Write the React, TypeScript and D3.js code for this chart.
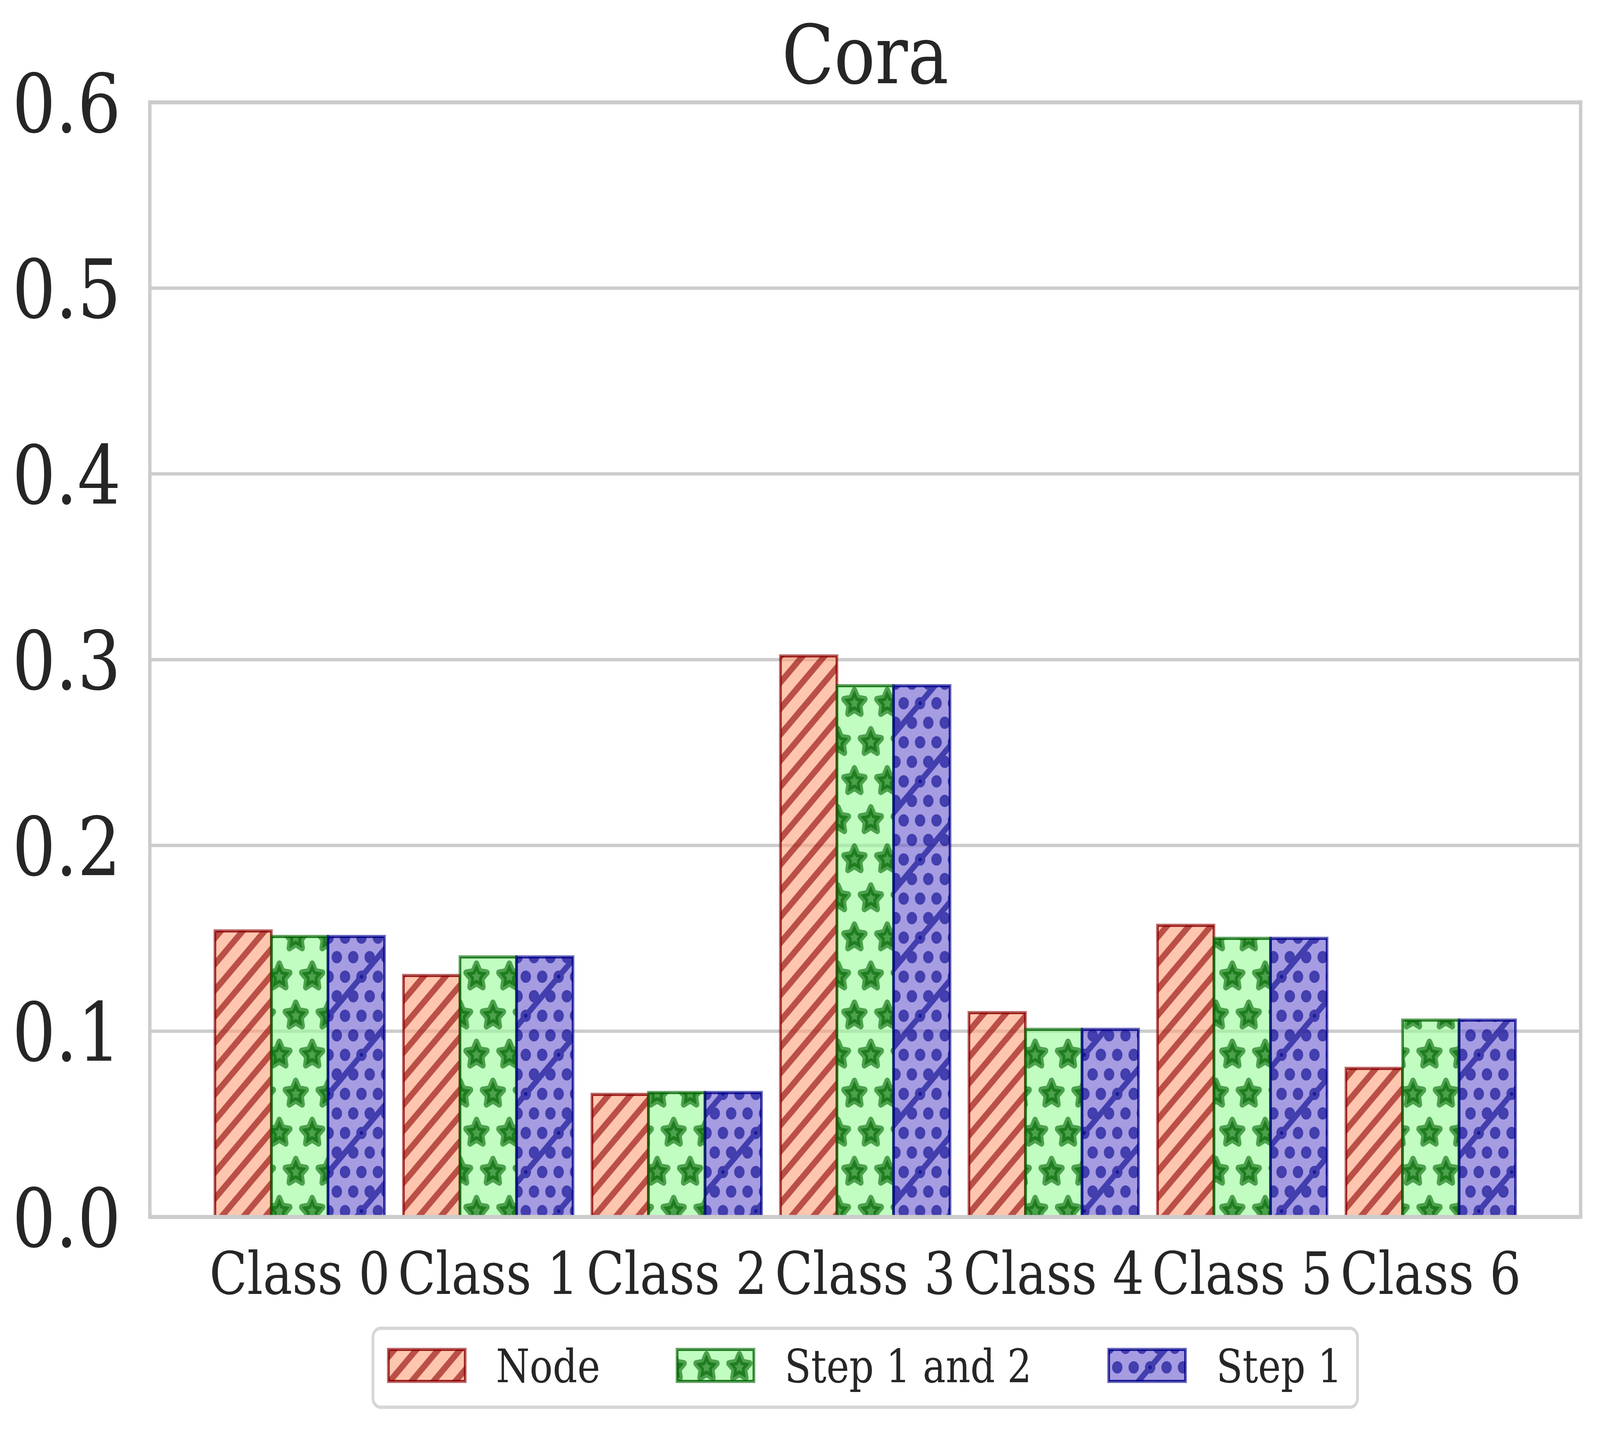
import { useMemo } from "react";
import * as d3 from "d3";

// chart data
const categories = ["Class 0", "Class 1", "Class 2", "Class 3", "Class 4", "Class 5", "Class 6"];
const seriesNames = ["Node", "Step 1 and 2", "Step 1"];
const nodeValues = [0.154, 0.130, 0.066, 0.302, 0.110, 0.157, 0.080];
const step12Values = [0.151, 0.140, 0.067, 0.286, 0.101, 0.150, 0.106];
const step1Values = [0.151, 0.140, 0.067, 0.286, 0.101, 0.150, 0.106];
const yTicks = [0, 0.1, 0.2, 0.3, 0.4, 0.5, 0.6];
const title = "Cora";

// drawing frame (the reference size); the svg is stretched onto the viewport
const W = 4869;
const H = 3668;
const plot = { left: 456, right: 4810, top: 262, bottom: 3115 };
const FONT = "'DejaVu Serif', serif";
const TEXT = "#262626";
const GRID = "#cccccc";

const styles = [
  { fill: "#ffa07a", edge: "#8b0000", pattern: "hatch-node" },
  { fill: "#98fb98", edge: "#006400", pattern: "hatch-stars" },
  { fill: "#6a5acd", edge: "#00008b", pattern: "hatch-dots" },
];

const starPath = (cx: number, cy: number, R: number, r: number) => {
  const pts: string[] = [];
  for (let k = 0; k < 10; k++) {
    const a = -Math.PI / 2 + (k * Math.PI) / 5;
    const rr = k % 2 === 0 ? R : r;
    pts.push(`${(cx + rr * Math.cos(a)).toFixed(2)},${(cy + rr * Math.sin(a)).toFixed(2)}`);
  }
  return "M" + pts.join("L") + "Z";
};

const diag = (c: number) => ({ x1: -30, y1: c + 30, x2: c + 30, y2: -30 });

const Patterns = () => {
  const P = 600 / 9; // stripe period
  const starCenters = [
    [0, 0], [100, 0], [50, 100], [0, 200], [100, 200],
  ];
  const stars = starCenters.map(([x, y]) => starPath(x, y, 33.3, 16.7)).join("");
  const dots: [number, number][] = [];
  for (let row = 0; row <= 4; row++) {
    const y = row * 50;
    const xs = row % 2 === 0 ? [0, 50, 100, 150, 200] : [25, 75, 125, 175];
    xs.forEach((x) => dots.push([x, y]));
  }
  return (
    <defs>
      <pattern id="hatch-node" patternUnits="userSpaceOnUse" width={P} height={P}
        patternTransform="translate(55,0)">
        <g opacity={0.6} stroke="#8b0000" strokeWidth={17}>
          {[0, P, 2 * P].map((c) => <line key={c} {...diag(c)} />)}
        </g>
      </pattern>
      <pattern id="hatch-stars" patternUnits="userSpaceOnUse" width={100} height={200}>
        <g opacity={0.6}>
          <path d={stars} fill="#006400" />
        </g>
        <g opacity={0.6}>
          <path d={stars} fill="none" stroke="#006400" strokeWidth={16.7} strokeLinejoin="round" />
        </g>
      </pattern>
      <pattern id="hatch-dots" patternUnits="userSpaceOnUse" width={200} height={200}>
        <g opacity={0.6} stroke="#00008b" fill="none">
          {dots.map(([x, y], i) => (
            <circle key={i} cx={x} cy={y} r={10.4} strokeWidth={10.8} />
          ))}
          {[0, 200, 400].map((c) => <line key={c} {...diag(c)} strokeWidth={16} />)}
        </g>
        <g opacity={0.6} fill="#00008b">
          {dots.map(([x, y], i) => (
            <circle key={i} cx={x} cy={y} r={5} />
          ))}
        </g>
      </pattern>
    </defs>
  );
};

const HatchRect = ({ x, y, w, h, s }: { x: number; y: number; w: number; h: number; s: number }) => {
  const st = styles[s];
  return (
    <g>
      <rect x={x} y={y} width={w} height={h} fill={st.fill} fillOpacity={0.6} />
      <rect x={x} y={y} width={w} height={h} fill={`url(#${st.pattern})`} />
      <rect x={x} y={y} width={w} height={h} fill="none" stroke={st.edge} strokeOpacity={0.6} strokeWidth={8} />
      <rect x={x + 2} y={y + 2} width={Math.max(0, w - 4)} height={Math.max(0, h - 4)}
        fill="none" stroke={st.edge} strokeOpacity={0.6} strokeWidth={4} />
    </g>
  );
};

export default function App() {
  const series = [nodeValues, step12Values, step1Values];
  const barWidth = 0.3;
  const x = d3.scaleLinear().domain([-0.795, categories.length - 1 + 0.795]).range([plot.left, plot.right]);
  const y = d3.scaleLinear().domain([0, 0.6]).range([plot.bottom, plot.top]);
  const fmt = d3.format(".1f");

  const legendFs = 117;
  const legend = useMemo(() => {
    const ctx = document.createElement("canvas").getContext("2d");
    let widths = seriesNames.map((n) => n.length * legendFs * 0.55);
    if (ctx) {
      ctx.font = `${legendFs}px 'DejaVu Serif'`;
      widths = seriesNames.map((n) => ctx.measureText(n).width);
    }
    const handleW = 2.0 * legendFs;
    const pad = 0.8 * legendFs;
    const colSpace = 2.0 * legendFs;
    const border = 0.4 * legendFs;
    const total = 2 * border + widths.reduce((a, w) => a + handleW + pad + w, 0) + colSpace * (seriesNames.length - 1);
    const left = (plot.left + plot.right) / 2 - total / 2;
    let cur = left + border;
    const items = seriesNames.map((name, i) => {
      const item = { name, hx: cur, tx: cur + handleW + pad };
      cur += handleW + pad + widths[i] + colSpace;
      return item;
    });
    return { left, total, items, handleW };
  }, []);

  return (
    <svg viewBox={`0 0 ${W} ${H}`} preserveAspectRatio="none"
      style={{ position: "fixed", left: 0, top: 0, width: "100vw", height: "100vh", background: "#fff", display: "block" }}>
      <Patterns />
      <rect x={0} y={0} width={W} height={H} fill="#fff" />

      {/* grid */}
      {yTicks.map((t) => (
        <line key={t} x1={plot.left} x2={plot.right} y1={y(t)} y2={y(t)} stroke={GRID} strokeWidth={8.3} />
      ))}

      {/* bars */}
      {series.map((vals, s) =>
        vals.map((v, i) => {
          const x0 = x(i + (s - 1) * barWidth - barWidth / 2);
          const x1 = x(i + (s - 1) * barWidth + barWidth / 2);
          return <HatchRect key={`${s}-${i}`} x={x0} y={y(v)} w={x1 - x0} h={y(0) - y(v)} s={s} />;
        })
      )}

      {/* spines */}
      <rect x={plot.left} y={plot.top} width={plot.right - plot.left} height={plot.bottom - plot.top}
        fill="none" stroke={GRID} strokeWidth={10.4} />

      {/* y tick labels */}
      {yTicks.map((t) => (
        <text key={t} x={368} y={y(t) + 76} textAnchor="end" fontFamily={FONT} fontSize={208} fill={TEXT}>
          {fmt(t)}
        </text>
      ))}

      {/* x tick labels */}
      {categories.map((c, i) => (
        <text key={c} x={x(i)} y={3312} textAnchor="middle" fontFamily={FONT} fontSize={150} fill={TEXT}>
          {c}
        </text>
      ))}

      {/* title */}
      <text x={(plot.left + plot.right) / 2} y={213} textAnchor="middle" fontFamily={FONT} fontSize={208} fill={TEXT}>
        {title}
      </text>

      {/* legend */}
      <rect x={legend.left} y={3400} width={legend.total} height={202} rx={23} ry={23}
        fill="#fff" stroke="#d6d6d6" strokeWidth={8.3} />
      {legend.items.map((it, i) => (
        <g key={it.name}>
          <HatchRect x={it.hx} y={3454} w={legend.handleW} h={82} s={i} />
          <text x={it.tx} y={3538} fontFamily={FONT} fontSize={legendFs} fill={TEXT}>
            {it.name}
          </text>
        </g>
      ))}
    </svg>
  );
}
